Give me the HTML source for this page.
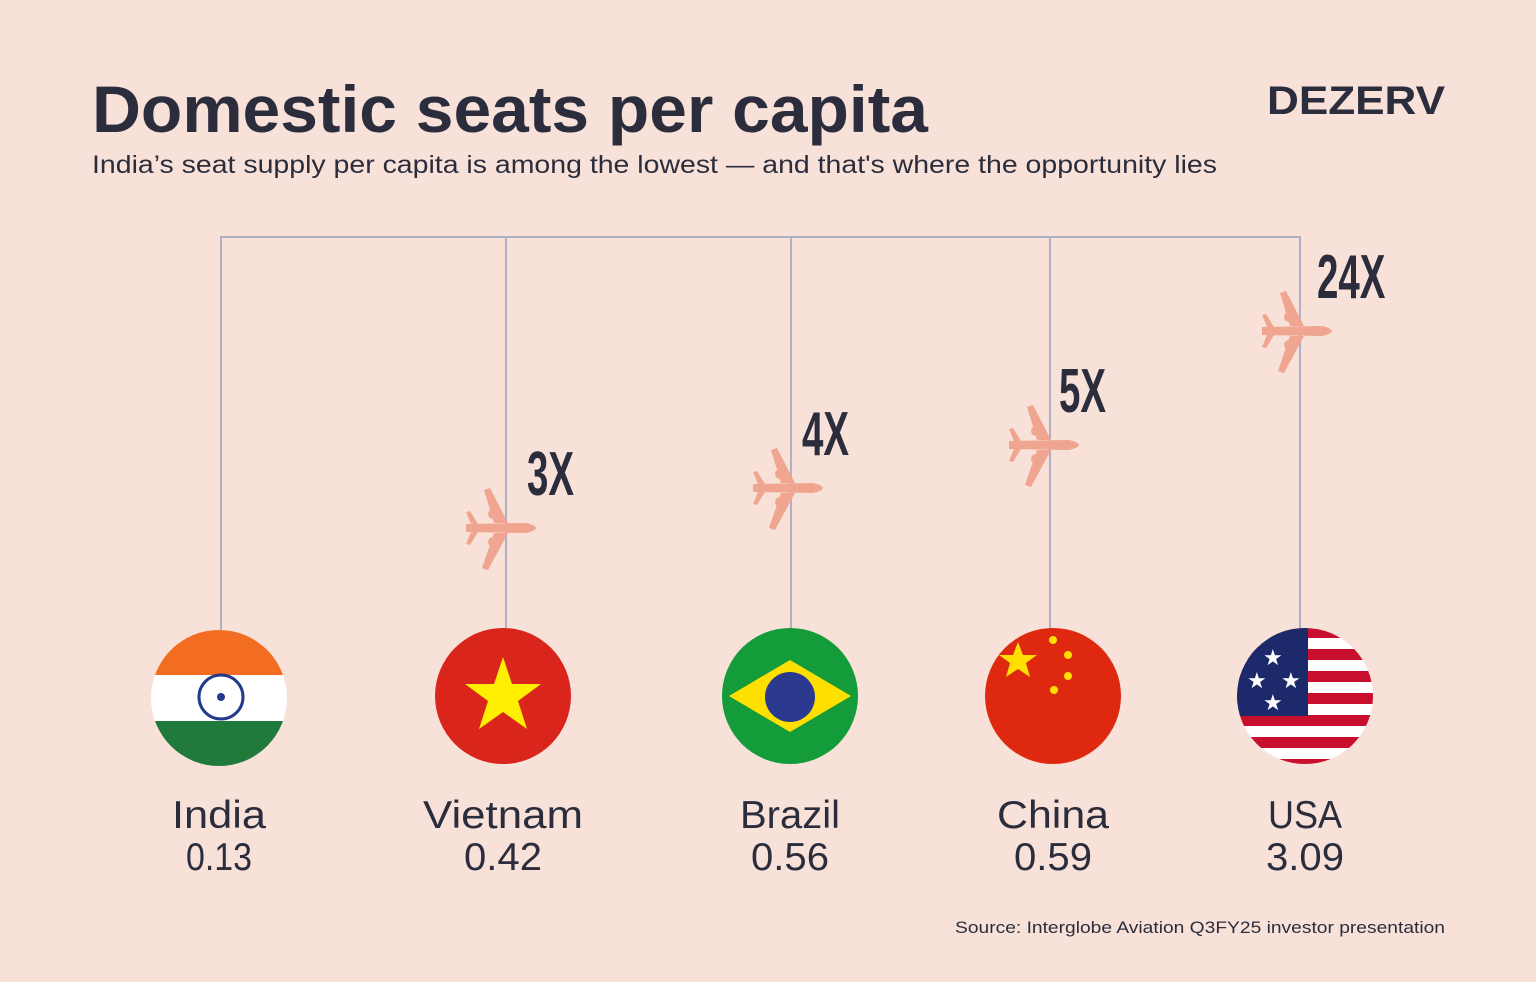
<!DOCTYPE html>
<html><head><style>
body{margin:0;background:#f8e1d9;}
svg{display:block}
text{font-family:"Liberation Sans",sans-serif;fill:#2b2d3c}
</style></head><body>
<svg width="1536" height="982" viewBox="0 0 1536 982" xmlns="http://www.w3.org/2000/svg">
<rect width="1536" height="982" fill="#f8e1d9"/>
<defs>
<g id="pl" fill="#efa58f">
<path d="M-34,-4 L26,-5 Q35,-3 36,0 Q35,3 26,5 L-34,4 Z"/>
<path d="M8,-5 L-10,-40 L-16,-38 L-6,-5 Z"/>
<path d="M8,5 L-12,42 L-18,40 L-6,5 Z"/>
<path d="M-22,-4 L-30,-17 L-34,-16 L-29,-4 Z"/>
<path d="M-22,4 L-30,17 L-34,16 L-29,4 Z"/>
<circle cx="-7" cy="-14" r="5"/><circle cx="-7" cy="14" r="5"/>
</g>
<clipPath id="c1"><circle cx="219" cy="698" r="68"/></clipPath>
<clipPath id="c5"><circle cx="1305" cy="696" r="68"/></clipPath>
</defs>
<text x="92" y="132" font-size="66" font-weight="bold" textLength="836" lengthAdjust="spacingAndGlyphs">Domestic seats per capita</text>
<text x="92" y="173" font-size="25" textLength="1125" lengthAdjust="spacingAndGlyphs">India’s seat supply per capita is among the lowest — and that's where the opportunity lies</text>
<text x="1267" y="114" font-size="40" font-weight="bold" textLength="178" lengthAdjust="spacingAndGlyphs">DEZERV</text>
<g stroke="#aeb0c4" stroke-width="2" fill="none">
<path d="M221,630 V237 H1300 V630 M506,237 V630 M791,237 V630 M1050,237 V630"/>
</g>
<use href="#pl" x="500" y="528"/>
<use href="#pl" x="787" y="488"/>
<use href="#pl" x="1043" y="445"/>
<use href="#pl" x="1296" y="331"/>
<g font-weight="bold" font-size="62">
<text transform="translate(527,495) scale(0.62,1)">3X</text>
<text transform="translate(802,455) scale(0.62,1)">4X</text>
<text transform="translate(1059,412) scale(0.62,1)">5X</text>
<text transform="translate(1317,298) scale(0.62,1)">24X</text>
</g>
<!-- India -->
<g clip-path="url(#c1)">
<rect x="150" y="630" width="140" height="45" fill="#f26d22"/>
<rect x="150" y="675" width="140" height="46" fill="#fff"/>
<rect x="150" y="721" width="140" height="46" fill="#1f7a3c"/>
</g>
<circle cx="221" cy="697" r="22" fill="none" stroke="#233a8a" stroke-width="3"/>
<circle cx="221" cy="697" r="4" fill="#233a8a"/>
<!-- Vietnam -->
<circle cx="503" cy="696" r="68" fill="#da251d"/>
<polygon points="503,657 512,684 541,684 518,701 527,729 503,712 479,729 488,701 465,684 494,684" fill="#ffef00"/>
<!-- Brazil -->
<circle cx="790" cy="696" r="68" fill="#149b3a"/>
<polygon points="790,660 851,696 790,732 729,696" fill="#fedf00"/>
<circle cx="790" cy="697" r="25" fill="#2b3a8f"/>
<!-- China -->
<circle cx="1053" cy="696" r="68" fill="#de2910"/>
<polygon points="1018,642 1023,655 1037,655 1026,663 1030,677 1018,669 1006,677 1010,663 999,655 1013,655" fill="#ffde00"/>
<g fill="#ffde00"><circle cx="1053" cy="640" r="4"/><circle cx="1068" cy="655" r="4"/><circle cx="1068" cy="676" r="4"/><circle cx="1054" cy="690" r="4"/></g>
<!-- USA -->
<g clip-path="url(#c5)">
<rect x="1230" y="620" width="160" height="160" fill="#fff"/>
<g fill="#c8102e">
<rect x="1230" y="627" width="160" height="11"/><rect x="1230" y="649" width="160" height="11"/><rect x="1230" y="671" width="160" height="11"/><rect x="1230" y="693" width="160" height="11"/><rect x="1230" y="715" width="160" height="11"/><rect x="1230" y="737" width="160" height="11"/><rect x="1230" y="759" width="160" height="11"/>
</g>
<rect x="1230" y="620" width="78" height="96" fill="#1c2a6b"/>
<g font-size="22"><text x="1263" y="665" style="fill:#fff">★</text><text x="1247" y="688" style="fill:#fff">★</text><text x="1281" y="688" style="fill:#fff">★</text><text x="1263" y="710" style="fill:#fff">★</text></g>
</g>
<g font-size="39" text-anchor="middle">
<text x="219" y="828" textLength="94" lengthAdjust="spacingAndGlyphs">India</text><text x="219" y="870" textLength="66" lengthAdjust="spacingAndGlyphs">0.13</text>
<text x="503" y="828" textLength="160" lengthAdjust="spacingAndGlyphs">Vietnam</text><text x="503" y="870" textLength="78" lengthAdjust="spacingAndGlyphs">0.42</text>
<text x="790" y="828" textLength="100" lengthAdjust="spacingAndGlyphs">Brazil</text><text x="790" y="870" textLength="78" lengthAdjust="spacingAndGlyphs">0.56</text>
<text x="1053" y="828" textLength="112" lengthAdjust="spacingAndGlyphs">China</text><text x="1053" y="870" textLength="78" lengthAdjust="spacingAndGlyphs">0.59</text>
<text x="1305" y="828" textLength="74" lengthAdjust="spacingAndGlyphs">USA</text><text x="1305" y="870" textLength="78" lengthAdjust="spacingAndGlyphs">3.09</text>
</g>
<text x="955" y="933" font-size="17" textLength="490" lengthAdjust="spacingAndGlyphs">Source: Interglobe Aviation Q3FY25 investor presentation</text>
</svg>
</body></html>
